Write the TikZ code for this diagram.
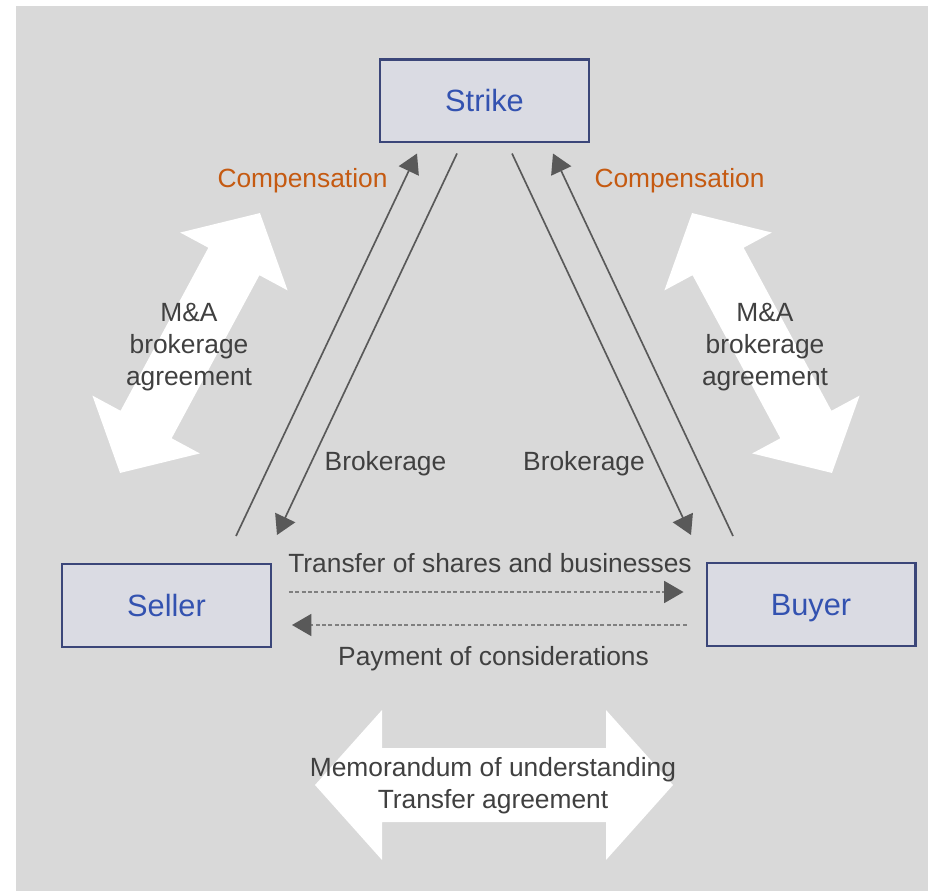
\documentclass[tikz,border=0pt]{standalone}
\usepackage{fontspec}
\setmainfont{Liberation Sans}
\usetikzlibrary{arrows.meta,calc}

\definecolor{bggray}{HTML}{D9D9D9}
\definecolor{boxfill}{HTML}{DADBE3}
\definecolor{boxline}{HTML}{3B4679}
\definecolor{boxtext}{HTML}{3352B0}
\definecolor{orangetext}{HTML}{C55A11}
\definecolor{darktext}{HTML}{404040}
\definecolor{linegray}{HTML}{595959}
\definecolor{dotgray}{HTML}{808080}

% wide white double arrow along the local x axis:
% #1 half length, #2 head length, #3 head half width, #4 shaft half width
\newcommand\wideArrow[4]{%
  \fill[white] (-#1,0) -- ({-#1+#2},{-#3}) -- ({-#1+#2},{-#4}) -- ({#1-#2},{-#4})
    -- ({#1-#2},{-#3}) -- (#1,0) -- ({#1-#2},{#3}) -- ({#1-#2},{#4})
    -- ({-#1+#2},{#4}) -- ({-#1+#2},{#3}) -- cycle;}

\begin{document}
\begin{tikzpicture}[x=0.02cm,y=-0.02cm,
  party/.style={draw=boxline,line width=1.15pt,fill=boxfill,
    minimum width=4.18cm,minimum height=1.66cm,inner sep=0pt,
    text height=12.5pt,text depth=0pt,
    font=\fontsize{17.5}{21}\selectfont,text=boxtext},
  lbl/.style={font=\fontsize{15}{18.2}\selectfont,text=darktext,inner sep=0pt},
  pay/.style={lbl,text=orangetext},
  flow/.style={draw=linegray,line width=0.95pt,
    -{Triangle[length=11pt,width=12.5pt,color=linegray]}},
  deal/.style={draw=dotgray,line width=0.85pt,dash pattern=on 2.2pt off 1.4pt,
    -{Triangle[length=11pt,width=12.5pt,color=linegray]}}]

% page and panel
\fill[white] (0,0) rectangle (935,891);
\fill[bggray] (16,6) rectangle (928,891);
\useasboundingbox (0,0) rectangle (935,891);

% agreement arrows
\begin{scope}[shift={(190,343)},rotate=61.7]
  \wideArrow{147.6}{55}{61}{29}
\end{scope}
\begin{scope}[shift={(762,343)},rotate=-61.7]
  \wideArrow{147.6}{55}{61}{29}
\end{scope}
\begin{scope}[shift={(494,785)}]
  \wideArrow{179}{67}{75}{37}
\end{scope}

% parties
\node[party] (strike) at (484.5,101) {Strike};
\node[party] (seller) at (166.5,605.5) {Seller};
\node[party] (buyer)  at (811,604.5) {Buyer};

% connector ends
\coordinate (sellerOut) at ($(seller.north)+(69.5,-27)$);
\coordinate (sellerIn)  at ($(seller.north)+(110.5,-28)$);
\coordinate (strikeInL) at ($(strike.south)+(-67.5,10)$);
\coordinate (strikeOutL) at ($(strike.south)+(-27.5,10)$);
\coordinate (strikeOutR) at ($(strike.south)+(27.5,10)$);
\coordinate (strikeInR) at ($(strike.south)+(68.5,10)$);
\coordinate (buyerIn)  at ($(buyer.north)+(-120,-27)$);
\coordinate (buyerOut) at ($(buyer.north)+(-78,-26)$);

\coordinate (sharesFrom) at ($(seller.east)+(17,-13.5)$);
\coordinate (sharesTo)   at ($(buyer.west)+(-22,-12.5)$);
\coordinate (payFrom)    at ($(buyer.west)+(-19,20.5)$);
\coordinate (payTo)      at ($(seller.east)+(20,19.5)$);

% fee and brokerage flows
\draw[flow] (sellerOut) -- (strikeInL);
\draw[flow] (strikeOutL) -- (sellerIn);
\draw[flow] (strikeOutR) -- (buyerIn);
\draw[flow] (buyerOut) -- (strikeInR);

% transaction flows
\draw[deal] (sharesFrom) -- (sharesTo);
\draw[deal] (payFrom) -- (payTo);

% labels (multi-line labels are placed by their last baseline)
\node[pay,anchor=base] (compL) at (302.5,188) {Compensation};
\node[pay,anchor=base] (compR) at (679.5,188) {Compensation};
\node[lbl,align=center,anchor=base] (mnaL) at (189,385) {M\&A\\brokerage\\agreement};
\node[lbl,align=center,anchor=base] (mnaR) at (765,385) {M\&A\\brokerage\\agreement};
\node[lbl,anchor=base] (brkL) at (385.5,470) {Brokerage};
\node[lbl,anchor=base] (brkR) at (584,470) {Brokerage};
\node[lbl,anchor=base] (shares) at (490,572) {Transfer of shares and businesses};
\node[lbl,anchor=base] (payment) at (493.5,665) {Payment of considerations};
\node[lbl,align=center,anchor=base] (mou) at (493,808) {Memorandum of understanding\\Transfer agreement};
\end{tikzpicture}
\end{document}
